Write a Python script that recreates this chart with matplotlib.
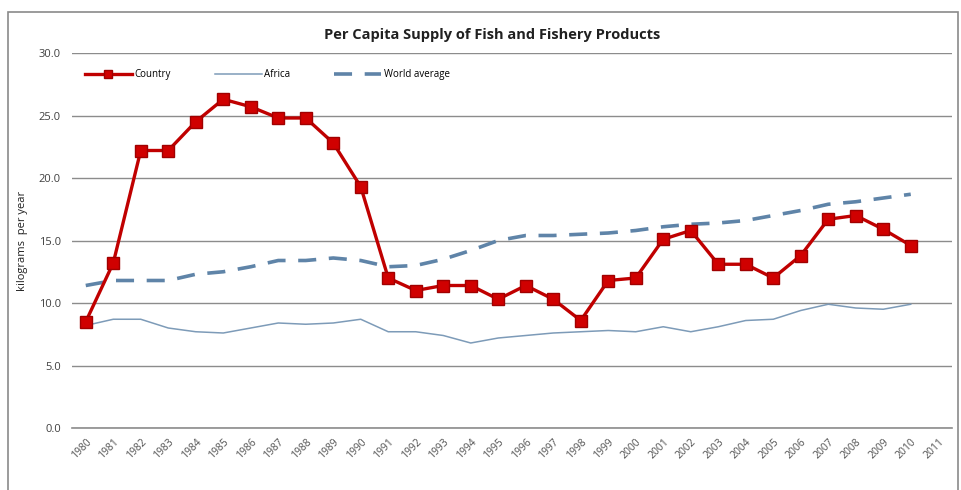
import matplotlib
matplotlib.use("Agg")
import matplotlib.pyplot as plt
from matplotlib.patches import Rectangle

plt.rcParams['font.family'] = ['Open Sans', 'DejaVu Sans']

years = [str(y) for y in range(1980, 2012)]
country = [8.5, 13.2, 22.2, 22.2, 24.5, 26.3, 25.7, 24.8, 24.8, 22.8,
           19.3, 12.0, 11.0, 11.4, 11.4, 10.3, 11.4, 10.3, 8.6, 11.8,
           12.0, 15.1, 15.8, 13.1, 13.1, 12.0, 13.8, 16.7, 17.0, 15.9, 14.6]
africa = [8.2, 8.7, 8.7, 8.0, 7.7, 7.6, 8.0, 8.4, 8.3, 8.4,
          8.7, 7.7, 7.7, 7.4, 6.8, 7.2, 7.4, 7.6, 7.7, 7.8,
          7.7, 8.1, 7.7, 8.1, 8.6, 8.7, 9.4, 9.9, 9.6, 9.5, 9.9]
world = [11.4, 11.8, 11.8, 11.8, 12.3, 12.5, 12.9, 13.4, 13.4, 13.6,
         13.4, 12.9, 13.0, 13.5, 14.2, 15.0, 15.4, 15.4, 15.5, 15.6,
         15.8, 16.1, 16.3, 16.4, 16.6, 17.0, 17.4, 17.9, 18.1, 18.4, 18.7]
yticks = [0, 5, 10, 15, 20, 25, 30]

W, H = 962, 490
fig = plt.figure(figsize=(W / 100, H / 100), dpi=100)
fig.patches.append(Rectangle((8 / W, -0.02), 950 / W, 1.02 - 12 / H,
                             transform=fig.transFigure, fill=False,
                             edgecolor='#8a8a8a', linewidth=1.2))

ax = fig.add_axes([72 / W, 1 - 428 / H, 880 / W, 375 / H])
x = list(range(len(country)))

ax.plot(x, country, color='#C00000', linewidth=2.4, marker='s', markersize=8,
        markerfacecolor='#D00000', markeredgecolor='#A00000', label='Country', zorder=4)
ax.plot(x, africa, color='#7D9BB8', linewidth=1.1, label='Africa', zorder=3)
ax.plot(x, world, color='#5F84A8', linewidth=2.6, linestyle=(0, (5, 3.5)),
        label='World average', zorder=3)

ax.set_xlim(-0.5, len(years) - 0.5)
ax.set_ylim(0, 30)
ax.set_yticks(yticks)
ax.set_yticklabels([f"{v:.1f}" for v in yticks], fontsize=8, color='#404040')
ax.set_xticks(range(len(years)))
ax.set_xticklabels(years, rotation=45, ha='right', rotation_mode='anchor',
                   fontsize=7.5, color='#505050')
ax.tick_params(length=0, pad=8)
ax.tick_params(axis='x', pad=6)
for s in ax.spines.values():
    s.set_visible(False)
ax.yaxis.grid(True, color='#8c8c8c', linewidth=1)
ax.axhline(0, color='#8c8c8c', linewidth=1.2, clip_on=False, zorder=1)
ax.set_axisbelow(True)

ax.set_ylabel('kilograms  per year', fontsize=8, color='#202020', labelpad=8)
fig.text(492 / W, 1 - 35 / H, 'Per Capita Supply of Fish and Fishery Products',
         ha='center', va='center', fontsize=10.5, fontweight='bold', color='#202020')

ax.legend(loc='upper left', bbox_to_anchor=(0.005, 0.98), ncol=3, frameon=False,
          fontsize=7, handlelength=4.8, columnspacing=4.5, handletextpad=0.3,
          markerscale=0.7)

fig.savefig('out.png', dpi=100, facecolor='white')
